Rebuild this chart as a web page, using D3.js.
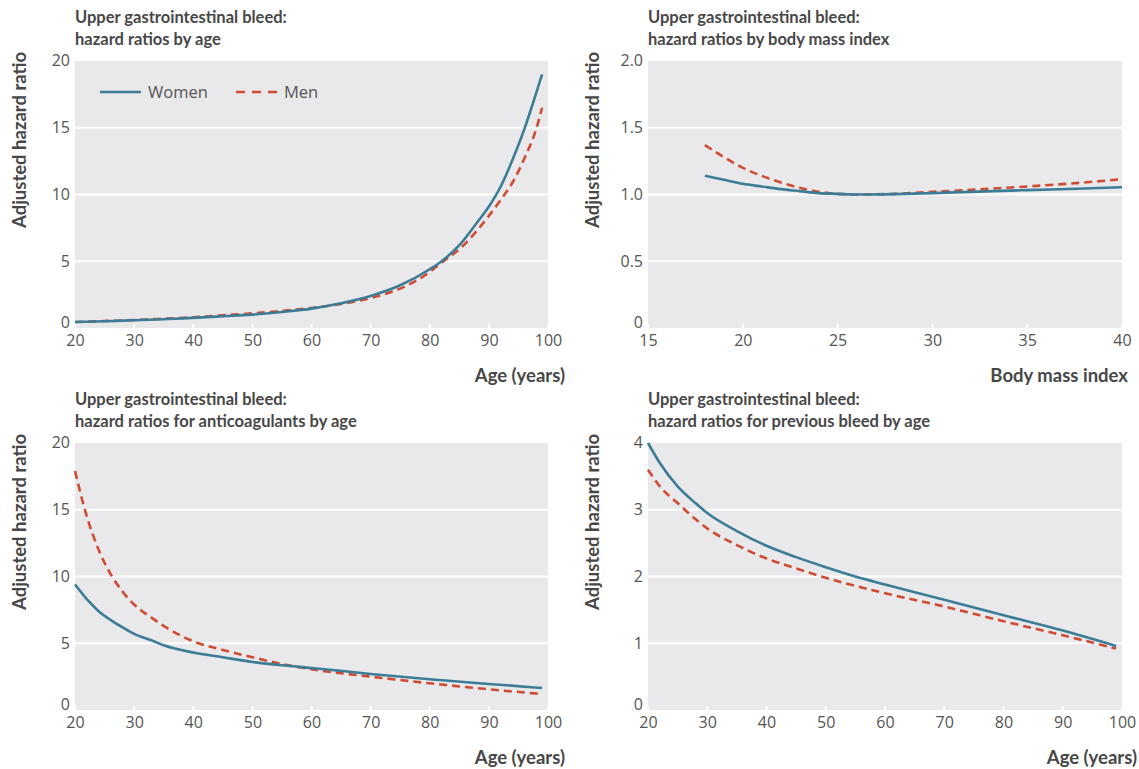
<!DOCTYPE html>
<html>
<head>
<meta charset="utf-8">
<script src="https://cdn.jsdelivr.net/npm/d3@7"></script>
<style>
  body { margin: 0; background: #fff; }
  text { font-family: Lato, "Open Sans", sans-serif; }
</style>
</head>
<body>
<div id="chart"></div>
<script>
var width = 1139,
    height = 769;

// panel 1: hazard ratios by age
var ageX = [20, 25, 30, 35, 40, 45, 50, 55, 60, 65, 70, 75, 80, 82, 85, 88, 90, 92, 94, 96, 98, 99];
var ageWomen = [0.45, 0.5, 0.58, 0.66, 0.76, 0.88, 1.0, 1.2, 1.45, 1.85, 2.4, 3.2, 4.4, 5.0, 6.2, 7.9, 9.1, 10.6, 12.6, 14.9, 17.6, 19.0];
var ageMen = [0.45, 0.52, 0.6, 0.7, 0.8, 0.95, 1.1, 1.28, 1.5, 1.8, 2.25, 2.95, 4.2, 4.9, 5.9, 7.3, 8.4, 9.6, 10.9, 12.7, 14.9, 16.5];

// panel 2: hazard ratios by body mass index
var bmiX = [18, 19, 20, 21, 22, 23, 24, 25, 26, 28, 30, 32, 35, 38, 40];
var bmiWomen = [1.14, 1.11, 1.08, 1.06, 1.04, 1.025, 1.01, 1.005, 1.0, 1.003, 1.01, 1.02, 1.033, 1.045, 1.055];
var bmiMen = [1.37, 1.28, 1.2, 1.14, 1.09, 1.05, 1.02, 1.005, 1.0, 1.005, 1.02, 1.035, 1.06, 1.09, 1.115];

// panel 3: anticoagulants by age
var antiX = [20, 22, 24, 26, 28, 30, 33, 35, 40, 45, 50, 55, 60, 70, 80, 90, 99];
var antiWomen = [9.4, 8.3, 7.4, 6.75, 6.2, 5.7, 5.2, 4.85, 4.3, 3.95, 3.6, 3.35, 3.15, 2.7, 2.3, 1.95, 1.65];
var antiMen = [17.9, 14.5, 12.0, 10.2, 8.9, 7.9, 6.9, 6.3, 5.15, 4.5, 3.95, 3.45, 3.05, 2.5, 2.0, 1.55, 1.2];

// panel 4: previous bleed by age
var prevX = [20, 22, 25, 28, 30, 35, 40, 45, 50, 55, 60, 70, 80, 90, 99];
var prevWomen = [4.0, 3.7, 3.35, 3.1, 2.95, 2.68, 2.46, 2.29, 2.14, 2.0, 1.88, 1.65, 1.42, 1.19, 0.96];
var prevMen = [3.6, 3.35, 3.1, 2.86, 2.72, 2.47, 2.27, 2.12, 1.98, 1.86, 1.75, 1.55, 1.33, 1.12, 0.92];

var ageTicks = [20, 30, 40, 50, 60, 70, 80, 90, 100];
var bmiTicks = [15, 20, 25, 30, 35, 40];
var hr20Ticks = [0, 5, 10, 15, 20];
var hr2Ticks = [0, 0.5, 1.0, 1.5, 2.0];
var hr4Ticks = [0, 1, 2, 3, 4];

var legendLabels = ["Women", "Men"];

var womenColor = "#3b7d96",
    menColor = "#cf4b31",
    textColor = "#474747",
    tickColor = "#555",
    panelFill = "#e9e9eb";

var svg = d3.select("#chart").append("svg")
        .attr("width", width)
        .attr("height", height);

function zip(xs, ys) {
    return xs.map(function (x, i) { return {x: x, y: ys[i]}; });
}

function drawPanel(p) {
    var g = svg.append("g");
    var x = d3.scaleLinear().domain(p.xDomain).range([p.left, p.right]);
    var y = d3.scaleLinear().domain(p.yDomain).range([p.bottom, p.top]);

    g.append("rect")
            .attr("x", p.left)
            .attr("y", p.top)
            .attr("width", p.right - p.left)
            .attr("height", p.bottom - p.top)
            .attr("fill", panelFill);

    // white gridlines
    g.selectAll(".grid")
            .data(p.yTicks.filter(function (d) { return d > p.yDomain[0] && d < p.yDomain[1]; }))
            .enter().append("line")
            .attr("x1", p.left)
            .attr("x2", p.right)
            .attr("y1", function (d) { return y(d); })
            .attr("y2", function (d) { return y(d); })
            .attr("stroke", "#fff")
            .attr("stroke-width", 2);

    // small white ticks on the bottom edge
    g.selectAll(".xtick")
            .data(p.xTicks)
            .enter().append("line")
            .attr("x1", function (d) { return x(d); })
            .attr("x2", function (d) { return x(d); })
            .attr("y1", p.bottom)
            .attr("y2", p.bottom - 4)
            .attr("stroke", "#fff")
            .attr("stroke-width", 2);

    var yAxis = g.append("g")
            .attr("transform", "translate(" + p.left + ",0)")
            .call(d3.axisLeft(y).tickValues(p.yTicks).tickFormat(p.yFormat).tickSize(0).tickPadding(5));
    yAxis.select(".domain").remove();
    // the zero label sits a little above the bottom edge, clear of the x labels
    yAxis.selectAll("text")
            .attr("fill", tickColor)
            .style("font-family", "'Open Sans', sans-serif")
            .style("font-size", "16px")
            .attr("dy", function (d) { return d === 0 ? "-0.05em" : "0.3em"; });

    var xAxis = g.append("g")
            .attr("transform", "translate(0," + p.bottom + ")")
            .call(d3.axisBottom(x).tickValues(p.xTicks).tickSize(0).tickPadding(7));
    xAxis.select(".domain").remove();
    xAxis.selectAll("text")
            .attr("fill", tickColor)
            .style("font-family", "'Open Sans', sans-serif")
            .style("font-size", "16px");

    var line = d3.line()
            .x(function (d) { return x(d.x); })
            .y(function (d) { return y(d.y); })
            .curve(d3.curveMonotoneX);

    g.append("path")
            .datum(zip(p.xs, p.men))
            .attr("d", line)
            .attr("fill", "none")
            .attr("stroke", menColor)
            .attr("stroke-width", 2.6)
            .attr("stroke-dasharray", "8,5");
    g.append("path")
            .datum(zip(p.xs, p.women))
            .attr("d", line)
            .attr("fill", "none")
            .attr("stroke", womenColor)
            .attr("stroke-width", 2.6);

    // title, two lines
    var title = g.append("text")
            .attr("x", p.left)
            .attr("y", p.top - 38)
            .attr("fill", textColor)
            .style("font-size", "16.5px")
            .style("font-weight", "bold");
    title.append("tspan").attr("x", p.left).attr("dy", 0).text("Upper gastrointestinal bleed:");
    title.append("tspan").attr("x", p.left).attr("dy", 22).text(p.title);

    g.append("text")
            .attr("transform", "translate(" + (p.left - 55) + "," + (p.top + 79) + ") rotate(-90)")
            .attr("text-anchor", "middle")
            .attr("dy", "0.35em")
            .attr("fill", textColor)
            .style("font-size", "18.5px")
            .style("font-weight", "bold")
            .text("Adjusted hazard ratio");

    g.append("text")
            .attr("x", p.right + p.labelShift)
            .attr("y", p.bottom + 54)
            .attr("text-anchor", "end")
            .attr("fill", textColor)
            .style("font-size", "18.5px")
            .style("font-weight", "bold")
            .text(p.xLabel);

    return {g: g, x: x, y: y};
}

var p1 = drawPanel({
    left: 75, right: 548, top: 61, bottom: 328,
    xDomain: [20, 100], yDomain: [0, 20],
    xTicks: ageTicks, yTicks: hr20Ticks, yFormat: d3.format("d"),
    xs: ageX, women: ageWomen, men: ageMen,
    title: "hazard ratios by age", xLabel: "Age (years)", labelShift: 17
});

drawPanel({
    left: 648, right: 1122, top: 61, bottom: 328,
    xDomain: [15, 40], yDomain: [0, 2],
    xTicks: bmiTicks, yTicks: hr2Ticks,
    yFormat: function (d) { return d === 0 ? "0" : d3.format(".1f")(d); },
    xs: bmiX, women: bmiWomen, men: bmiMen,
    title: "hazard ratios by body mass index", xLabel: "Body mass index", labelShift: 6
});

drawPanel({
    left: 75, right: 548, top: 443, bottom: 710,
    xDomain: [20, 100], yDomain: [0, 20],
    xTicks: ageTicks, yTicks: hr20Ticks, yFormat: d3.format("d"),
    xs: antiX, women: antiWomen, men: antiMen,
    title: "hazard ratios for anticoagulants by age", xLabel: "Age (years)", labelShift: 17
});

drawPanel({
    left: 648, right: 1122, top: 443, bottom: 710,
    xDomain: [20, 100], yDomain: [0, 4],
    xTicks: ageTicks, yTicks: hr4Ticks, yFormat: d3.format("d"),
    xs: prevX, women: prevWomen, men: prevMen,
    title: "hazard ratios for previous bleed by age", xLabel: "Age (years)", labelShift: 15
});

// legend in the first panel
var legend = p1.g.append("g").attr("transform", "translate(100,92)");
var legendItems = legend.selectAll(".item")
        .data(legendLabels)
        .enter().append("g")
        .attr("transform", function (d, i) { return "translate(" + (i * 136) + ",0)"; });
legendItems.append("line")
        .attr("x1", 0)
        .attr("x2", 41)
        .attr("stroke", function (d, i) { return i === 0 ? womenColor : menColor; })
        .attr("stroke-width", 2.6)
        .attr("stroke-dasharray", function (d, i) { return i === 0 ? null : "9,7"; });
legendItems.append("text")
        .attr("x", 48)
        .attr("dy", "0.35em")
        .attr("fill", tickColor)
        .style("font-family", "'Open Sans', sans-serif")
        .style("font-size", "16.5px")
        .text(function (d) { return d; });
</script>
</body>
</html>
